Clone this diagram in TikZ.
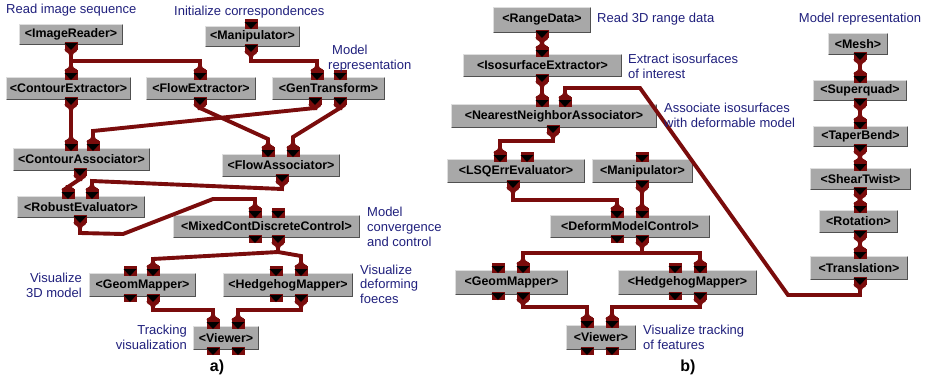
\documentclass[tikz,border=0pt]{standalone}
\usepackage{fontspec}
\setmainfont{Liberation Sans}
\definecolor{wirec}{RGB}{122,12,12}
\definecolor{boxg}{RGB}{168,168,168}
\definecolor{boxl}{RGB}{222,222,222}
\definecolor{boxd}{RGB}{80,80,80}
\definecolor{lblc}{RGB}{32,32,125}
\tikzset{
  modbox/.style={fill=boxg, inner sep=0pt, outer sep=0pt, text=black,
    font=\fontsize{12.4}{15}\selectfont\bfseries},
  wire/.style={draw=wirec, line width=3.9pt, line join=miter},
  lbl/.style={text=lblc, inner sep=0pt, font=\fontsize{13}{15}\selectfont},
  capt/.style={text=black, inner sep=0pt, font=\fontsize{16}{18}\selectfont\bfseries},
}
% module box: name x1 y1 x2 y2 text
\newcommand\modbx[6]{%
  \node[modbox, minimum width={#4-#2}, minimum height={#5-#3}] (#1) at ({(#2+#4)/2},{(#3+#5)/2}) {#6};
  \draw[boxl, line width=1.4pt] ([shift={(0.7pt,0.7pt)}]#1.south west) |- ([shift={(-0.7pt,-0.7pt)}]#1.north east);
  \draw[boxd, line width=1.4pt] ([shift={(0.7pt,0.7pt)}]#1.south west) -| ([shift={(-0.7pt,-0.7pt)}]#1.north east);
}
% input port: name x top flare
\newcommand\pin[4]{%
  \coordinate (#1) at (#2,#3-9);
  \ifnum#4=1\relax
    \fill[wirec] (#2-2,#3-11) .. controls (#2-2,#3-8) and (#2-6.5,#3-9) .. (#2-6.5,#3-6) -- (#2+6.5,#3-6) .. controls (#2+6.5,#3-9) and (#2+2,#3-8) .. (#2+2,#3-11) -- cycle;
  \fi
  \fill[wirec] (#2-6.5,#3-7) rectangle (#2+6.5,#3+3);
  \fill[black] (#2-6.5,#3-4) -- (#2+6.5,#3-4) -- (#2,#3+3) -- cycle;
}
% output port: name x bottom cup
\newcommand\pout[4]{%
  \coordinate (#1) at (#2,#3+8);
  \ifnum#4=1\relax
    \fill[wirec] (#2-6.5,#3+4) .. controls (#2-6.5,#3+8) and (#2-2,#3+7) .. (#2-2,#3+10) -- (#2+2,#3+10) .. controls (#2+2,#3+7) and (#2+6.5,#3+8) .. (#2+6.5,#3+4) -- cycle;
  \fi
  \fill[wirec] (#2-6.5,#3-3) rectangle (#2+6.5,#3+5);
  \fill[black] (#2-6.5,#3-2) -- (#2+6.5,#3-2) -- (#2,#3+5) -- cycle;
}
\begin{document}
\begin{tikzpicture}[x=1pt,y=-1pt]
\useasboundingbox (0,0) rectangle (935,381);
\fill[white] (0,0) rectangle (935,381);

% ---------------- panel a ----------------
\modbx{IR}{19}{24}{123}{45}{<ImageReader>}
\modbx{MA}{205}{26}{300}{47}{<Manipulator>}
\modbx{CE}{6}{77}{131}{100}{<ContourExtractor>}
\modbx{FE}{146}{77}{256}{100}{<FlowExtractor>}
\modbx{GT}{272}{77}{385}{100}{<GenTransform>}
\modbx{CA}{13}{148}{150}{171}{<ContourAssociator>}
\modbx{FA}{222}{154}{340}{177}{<FlowAssociator>}
\modbx{RE}{17}{196}{145}{218}{<RobustEvaluator>}
\modbx{MC}{173}{215}{360}{238}{<MixedContDiscreteControl>}
\modbx{GM}{89}{273}{196}{297}{<GeomMapper>}
\modbx{HM}{223}{273}{353}{297}{<HedgehogMapper>}
\modbx{VW}{193}{326}{259}{350}{<Viewer>}

\pout{iro}{71}{45}{1}
\pin{mai}{251}{26}{0}\pout{mao}{251}{47}{1}
\pin{cei}{71}{77}{1}\pout{ceo}{71}{100}{1}
\pin{fei}{200}{77}{1}\pout{feo}{200}{100}{1}
\pin{gti1}{317}{77}{1}\pin{gti2}{340}{77}{0}\pout{gto1}{315}{100}{1}\pout{gto2}{340}{100}{1}
\pin{cai1}{71}{148}{1}\pin{cai2}{93}{148}{1}\pout{cao}{80}{171}{1}
\pin{fai1}{268}{154}{1}\pin{fai2}{293}{154}{1}\pout{fao}{282}{177}{1}
\pin{rei1}{68}{196}{1}\pin{rei2}{92}{196}{1}\pout{reo}{80}{218}{1}
\pin{mci1}{255}{215}{1}\pin{mci2}{278}{215}{0}\pout{mco1}{255}{238}{0}\pout{mco2}{278}{238}{1}
\pin{gmi1}{130}{273}{0}\pin{gmi2}{153}{273}{1}\pout{gmo1}{130}{297}{0}\pout{gmo2}{153}{297}{1}
\pin{hmi1}{276}{273}{0}\pin{hmi2}{301}{273}{1}\pout{hmo1}{276}{297}{0}\pout{hmo2}{301}{297}{1}
\pin{vwi1}{213}{326}{1}\pin{vwi2}{238}{326}{1}\pout{vwo1}{213}{350}{0}\pout{vwo2}{238}{350}{0}

\draw[wire] (iro) -- (cei);
\draw[wire] (iro) -- ++(0,8) -| (fei);
\draw[wire] (mao) -- ++(0,6) -| (gti1);
\draw[wire] (ceo) -- (cai1);
\draw[wire] (feo) -- (268,139) -- (fai1);
\draw[wire] (gto1) -- (93,131) -- (cai2);
\draw[wire] (gto2) -- (293,137) -- (fai2);
\draw[wire] (cao) -- (rei1);
\draw[wire] (fao) -- ++(0,4) -- (92,181) -- (rei2);
\draw[wire] (reo) -- (80,233) -- (123,234) -- (213,199) -- (255,199) -- (mci1);
\coordinate (mcj) at (278,252);
\draw[wire] (mco2) -- (mcj) -- (153,259) -- (gmi2);
\draw[wire] (mcj) -- (301,256) -- (hmi2);
\draw[wire] (gmo2) -- ++(0,5) -| (vwi1);
\draw[wire] (hmo2) -- ++(0,5) -| (vwi2);

\node[lbl, anchor=base west] (l1) at (6,13.5) {Read image sequence};
\node[lbl, anchor=base west] (l2) at (174,15) {Initialize correspondences};
\node[lbl, anchor=base west] (l3a) at (332,54.5) {Model};
\node[lbl, anchor=base west] (l3b) at (328,69) {representation};
\node[lbl, anchor=base west] (l4a) at (367,216) {Model};
\node[lbl, anchor=base west] (l4b) at (367,231) {convergence};
\node[lbl, anchor=base west] (l4c) at (367,246) {and control};
\node[lbl, anchor=base east] (l5a) at (82,282) {Visualize};
\node[lbl, anchor=base east] (l5b) at (82,297) {3D model};
\node[lbl, anchor=base west] (l6a) at (360,274) {Visualize};
\node[lbl, anchor=base west] (l6b) at (360,288.5) {deforming};
\node[lbl, anchor=base west] (l6c) at (360,303) {foeces};
\node[lbl, anchor=base east] (l7a) at (187,334) {Tracking};
\node[lbl, anchor=base east] (l7b) at (187,349) {visualization};
\node[capt, anchor=base] (capa) at (217,371) {a)};

% ---------------- panel b ----------------
\modbx{RD}{493}{7}{591}{33}{<RangeData>}
\modbx{IE}{463}{54}{622}{77}{<IsosurfaceExtractor>}
\modbx{NN}{451}{104}{657}{128}{<NearestNeighborAssociator>}
\modbx{LS}{447}{159}{585}{183}{<LSQErrEvaluator>}
\modbx{M2}{592}{159}{693}{183}{<Manipulator>}
\modbx{DM}{550}{215}{710}{238}{<DeformModelControl>}
\modbx{G2}{455}{270}{568}{295}{<GeomMapper>}
\modbx{H2}{618}{270}{757}{295}{<HedgehogMapper>}
\modbx{V2}{566}{325}{636}{350}{<Viewer>}
\modbx{ME}{828}{33}{888}{55}{<Mesh>}
\modbx{SQ}{813}{80}{907}{101}{<Superquad>}
\modbx{TB}{813}{126}{908}{147}{<TaperBend>}
\modbx{ST}{810}{168}{911}{190}{<ShearTwist>}
\modbx{RO}{819}{210}{898}{233}{<Rotation>}
\modbx{TR}{810}{256}{908}{280}{<Translation>}

\pout{rdo}{542}{33}{1}
\pin{iei}{542}{54}{1}\pout{ieo}{542}{77}{1}
\pin{nni1}{542}{104}{1}\pin{nni2}{565}{104}{1}\pout{nno}{553}{128}{1}
\pin{lsi1}{500}{159}{1}\pin{lsi2}{527}{159}{0}\pout{lso}{513}{183}{1}
\pin{m2i}{642}{159}{0}\pout{m2o}{642}{183}{1}
\pin{dmi1}{617}{215}{1}\pin{dmi2}{642}{215}{1}\pout{dmo1}{617}{238}{0}\pout{dmo2}{642}{238}{1}
\pin{g2i1}{498}{270}{0}\pin{g2i2}{523}{270}{1}\pout{g2o1}{498}{295}{0}\pout{g2o2}{523}{295}{1}
\pin{h2i1}{675}{270}{0}\pin{h2i2}{700}{270}{1}\pout{h2o1}{675}{295}{0}\pout{h2o2}{700}{295}{1}
\pin{v2i1}{587}{325}{1}\pin{v2i2}{612}{325}{1}\pout{v2o1}{587}{350}{0}\pout{v2o2}{612}{350}{0}
\pout{meo}{860}{55}{1}
\pin{sqi}{860}{80}{1}\pout{sqo}{860}{101}{1}
\pin{tbi}{860}{126}{1}\pout{tbo}{860}{147}{1}
\pin{sti}{860}{168}{1}\pout{sto}{860}{190}{1}
\pin{roi}{860}{210}{1}\pout{roo}{860}{233}{1}
\pin{tri}{860}{256}{1}\pout{tro}{860}{280}{1}

\draw[wire] (rdo) -- (iei);
\draw[wire] (ieo) -- (nni1);
\draw[wire] (nno) -- ++(0,5) -| (lsi1);
\draw[wire] (lso) -- ++(0,9) -| (dmi1);
\draw[wire] (m2o) -- (dmi2);
\coordinate (dmj) at (642,253);
\draw[wire] (dmo2) -- (dmj) -| (g2i2);
\draw[wire] (dmj) -| (h2i2);
\draw[wire] (g2o2) -- ++(0,4) -| (v2i1);
\draw[wire] (h2o2) -- ++(0,4) -| (v2i2);
\draw[wire] (tro) -- (860,295) -- (788,295) -- (640,88) -- (565,88) -- (nni2);
\draw[wire] (meo) -- (sqi);
\draw[wire] (sqo) -- (tbi);
\draw[wire] (tbo) -- (sti);
\draw[wire] (sto) -- (roi);
\draw[wire] (roo) -- (tri);

\node[lbl, anchor=base west] (r1) at (597,22) {Read 3D range data};
\node[lbl, anchor=base west] (r2a) at (628,63) {Extract isosurfaces};
\node[lbl, anchor=base west] (r2b) at (628,78) {of interest};
\node[lbl, anchor=base west] (r3a) at (664,112) {Associate isosurfaces};
\node[lbl, anchor=base west] (r3b) at (664,127) {with deformable model};
\node[lbl, anchor=base] (r4) at (860,22) {Model representation};
\node[lbl, anchor=base west] (r5a) at (643,334) {Visualize tracking};
\node[lbl, anchor=base west] (r5b) at (643,349) {of features};
\node[capt, anchor=base] (capb) at (688,371) {b)};
\end{tikzpicture}
\end{document}
